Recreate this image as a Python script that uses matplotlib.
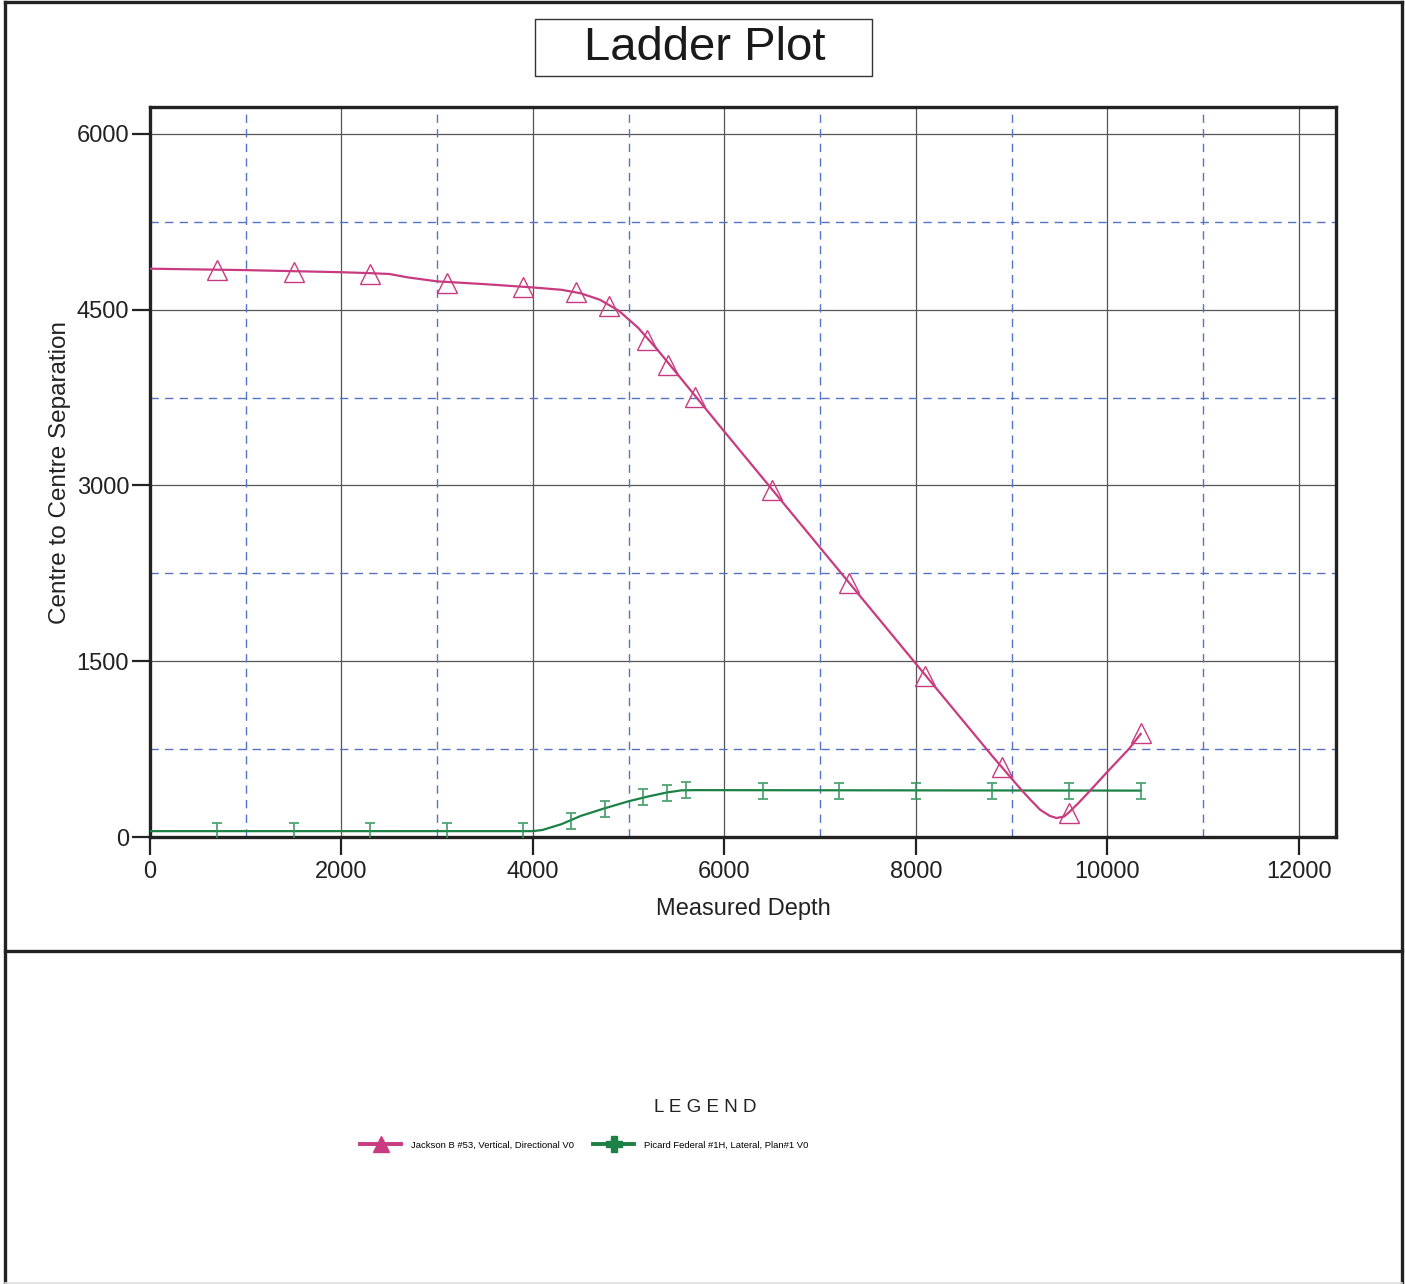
import numpy as np
import matplotlib.pyplot as plt
from matplotlib.lines import Line2D
from matplotlib.patches import Rectangle
from matplotlib.path import Path

plt.rcParams["font.family"] = ["Liberation Sans", "DejaVu Sans"]

PINK = "#c93b80"
GREEN = "#1b8145"
GREEN_MK = "#2f9459"
MAJOR_GRID = "#555555"
MINOR_GRID = "#5574c6"

# Jackson B #53 - reference well curve
jackson_md = [0, 1000, 2000, 2300, 2500, 2700, 3000, 3500, 4000, 4300, 4500, 4700,
              4900, 5100, 5300, 5600, 6000, 7000, 8000, 8800, 9100, 9200, 9300,
              9400, 9470, 9550, 9600, 9700, 9817, 10000, 10225, 10350]
jackson_sep = [4850, 4838, 4820, 4812, 4805, 4775, 4742, 4718, 4690, 4670, 4640, 4585,
               4490, 4345, 4160, 3860, 3460, 2470, 1480, 690, 405, 316, 232,
               180, 162, 175, 210, 290, 392, 555, 750, 880]
jackson_mk_md = [700, 1500, 2300, 3100, 3900, 4450, 4800, 5190, 5410, 5690,
                 6500, 7300, 8100, 8900, 9600, 10350]
jackson_mk_sep = [4839, 4822, 4805, 4728, 4694, 4651, 4532, 4242, 4028, 3755,
                  2962, 2168, 1374, 597, 205, 888]

# Picard Federal #1H - offset well curve
picard_md = [0, 4000, 4100, 4300, 4500, 4750, 5000, 5200, 5400, 5550, 5700, 8000, 10350]
picard_sep = [50, 50, 60, 110, 180, 245, 305, 345, 380, 398, 400, 398, 396]
picard_mk_md = [700, 1500, 2300, 3100, 3900, 4400, 4750, 5150, 5400, 5600,
                6400, 7200, 8000, 8800, 9600, 10350]
picard_mk_sep = [51, 51, 51, 51, 51, 137, 239, 341, 375, 401,
                 394, 394, 394, 394, 394, 394]

x_major = [0, 2000, 4000, 6000, 8000, 10000, 12000]
x_minor = [1000, 3000, 5000, 7000, 9000, 11000]
y_major = [0, 1500, 3000, 4500, 6000]
y_minor = [750, 2250, 3750, 5250]

# I-beam marker for the offset well
ibeam = Path([(0, -1), (0, 1), (-0.6, 1), (0.6, 1), (-0.6, -1), (0.6, -1)],
             [Path.MOVETO, Path.LINETO, Path.MOVETO, Path.LINETO, Path.MOVETO, Path.LINETO])

W, H = 1405, 1284
fig = plt.figure(figsize=(W / 100, H / 100), dpi=100)


def fx(px):
    return px / W


def fy(py):
    return 1 - py / H


ax = fig.add_axes([fx(150), fy(837), fx(1336) - fx(150), fy(107) - fy(837)])
ax.set_xlim(0, 12390)
ax.set_ylim(0, 6230)

for v in x_major:
    ax.axvline(v, color=MAJOR_GRID, lw=0.9, zorder=1)
for v in y_major:
    ax.axhline(v, color=MAJOR_GRID, lw=0.9, zorder=1)
for v in x_minor:
    ax.axvline(v, color=MINOR_GRID, lw=1.0, ls=(0, (6, 4.5)), zorder=1)
for v in y_minor:
    ax.axhline(v, color=MINOR_GRID, lw=1.0, ls=(0, (6, 4.5)), zorder=1)

ax.plot(picard_md, picard_sep, color=GREEN, lw=1.6, zorder=3)
ax.plot(picard_mk_md, picard_mk_sep, ls="none", marker=ibeam, markersize=11,
        markeredgecolor=GREEN_MK, markeredgewidth=1.3, alpha=0.85, zorder=3)
ax.plot(jackson_md, jackson_sep, color=PINK, lw=1.6, zorder=4)
ax.plot(jackson_mk_md, jackson_mk_sep, ls="none", marker="^", markersize=14,
        markerfacecolor="none", markeredgecolor=PINK, markeredgewidth=1.0, zorder=4)

ax.set_xticks(x_major)
ax.set_yticks(y_major)
ax.tick_params(direction="out", length=13, width=1.6, color="#222222",
               labelsize=17, pad=2, labelcolor="#222222")
ax.tick_params(axis="x", pad=4)
for s in ax.spines.values():
    s.set_linewidth(2.4)
    s.set_color("#222222")
ax.set_xlabel("Measured Depth", fontsize=17, color="#222222", labelpad=11)
ax.set_ylabel("Centre to Centre Separation", fontsize=17.5, color="#222222", labelpad=4)

# title box
fig.add_artist(Rectangle((fx(535), fy(76)), fx(872) - fx(535), fy(19) - fy(76),
                         transform=fig.transFigure, fill=False, ec="#333333", lw=1.0))
fig.text(fx(705), fy(48), "Ladder Plot", fontsize=34, ha="center", va="center", color="#1a1a1a")

# outer frame
frame_kw = dict(transform=fig.transFigure, color="#222222", lw=2.4)
fig.add_artist(Line2D([fx(5), fx(1402)], [fy(2), fy(2)], **frame_kw))
fig.add_artist(Line2D([fx(5), fx(5)], [fy(2), fy(1284)], **frame_kw))
fig.add_artist(Line2D([fx(1402), fx(1402)], [fy(2), fy(1284)], **frame_kw))
fig.add_artist(Line2D([fx(5), fx(1402)], [fy(951), fy(951)], **frame_kw))
fig.add_artist(Line2D([fx(5), fx(1402)], [fy(1283), fy(1283)], transform=fig.transFigure,
                      color="#dddddd", lw=1.2))

# legend
fig.text(fx(705), fy(1108), "L E G E N D", fontsize=13.5, ha="center", va="center", color="#222222")
handles = [
    Line2D([], [], color=PINK, lw=2.8, marker="^", markersize=11, markerfacecolor=PINK),
    Line2D([], [], color=GREEN, lw=2.8, marker="P", markersize=11, markerfacecolor=GREEN),
]
labels = ["Jackson B #53, Vertical, Directional V0", "Picard Federal #1H, Lateral, Plan#1 V0"]
fig.legend(handles, labels, loc="center", bbox_to_anchor=(fx(584), fy(1145)), ncol=2,
           frameon=False, fontsize=6.8, handlelength=4.4, handletextpad=1.0,
           columnspacing=2.0)

fig.savefig("out.png", dpi=100)
